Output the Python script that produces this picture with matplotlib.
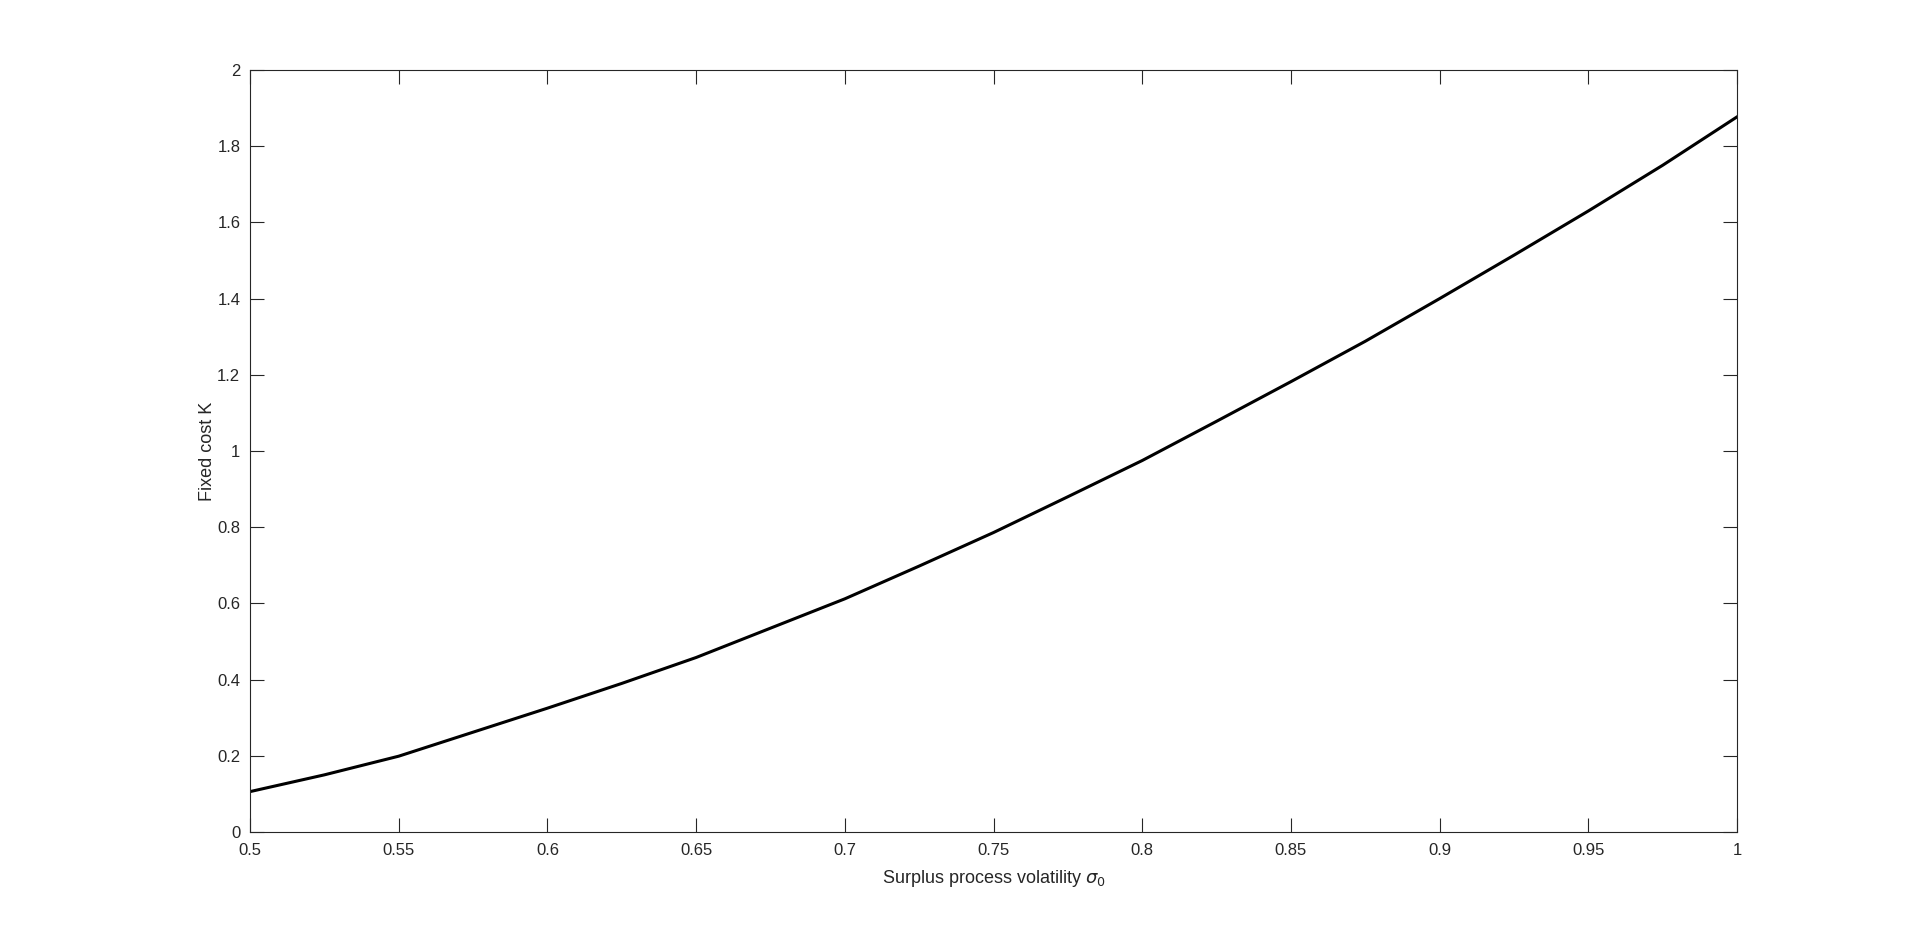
import matplotlib.pyplot as plt
from matplotlib.ticker import FuncFormatter

plt.rcParams["font.family"] = ["Liberation Sans", "DejaVu Sans"]
plt.rcParams["mathtext.fontset"] = "dejavusans"

# volatility vs fixed cost
sigma0 = [0.500, 0.525, 0.550, 0.575, 0.600, 0.625, 0.650, 0.675, 0.700, 0.725, 0.750,
          0.775, 0.800, 0.825, 0.850, 0.875, 0.900, 0.925, 0.950, 0.975, 1.000]
fixed_cost = [0.106, 0.150, 0.199, 0.262, 0.325, 0.390, 0.458, 0.535, 0.612, 0.698, 0.786,
              0.880, 0.975, 1.078, 1.182, 1.288, 1.400, 1.514, 1.630, 1.750, 1.877]

x_ticks = [0.5, 0.55, 0.6, 0.65, 0.7, 0.75, 0.8, 0.85, 0.9, 0.95, 1.0]
y_ticks = [0, 0.2, 0.4, 0.6, 0.8, 1.0, 1.2, 1.4, 1.6, 1.8, 2.0]

grey = "#262626"

fig = plt.figure(figsize=(19.2, 9.36), dpi=100)
ax = fig.add_axes([0.1302, 0.1111, 0.7745, 0.8141])

ax.plot(sigma0, fixed_cost, color="black", linewidth=2.2, solid_joinstyle="round")

ax.set_xlim(0.5, 1.0)
ax.set_ylim(0, 2)
ax.set_xticks(x_ticks)
ax.set_yticks(y_ticks)
fmt = FuncFormatter(lambda v, p: f"{v:g}")
ax.xaxis.set_major_formatter(fmt)
ax.yaxis.set_major_formatter(fmt)

ax.tick_params(direction="in", length=10, width=0.8, colors=grey,
               labelsize=12, top=True, right=True)
ax.tick_params(axis="x", pad=8)
ax.tick_params(axis="y", pad=7)
for s in ax.spines.values():
    s.set_color(grey)
    s.set_linewidth(0.8)

ax.set_xlabel(r"Surplus process volatility $\sigma_{\rm 0}$", fontsize=13, color=grey, labelpad=7)
ax.set_ylabel("Fixed cost K", fontsize=13, color=grey, labelpad=1)

fig.savefig("out.png", dpi=100, facecolor="white")
